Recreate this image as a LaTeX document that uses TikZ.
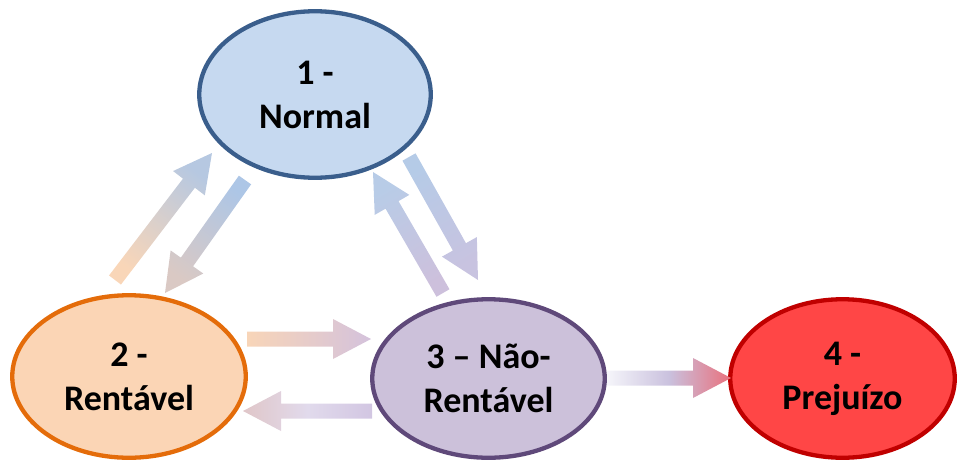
\documentclass[tikz,border=0pt]{standalone}
\usepackage{fontspec}
\setmainfont{Carlito}
\usetikzlibrary{shapes.geometric,calc}
\definecolor{nfill}{HTML}{C6D9F0}
\definecolor{ndraw}{HTML}{3A5E8C}
\definecolor{rfill}{HTML}{FBD5B5}
\definecolor{rdraw}{HTML}{E46C0A}
\definecolor{nrfill}{HTML}{CCC1DA}
\definecolor{nrdraw}{HTML}{5F497A}
\definecolor{pfill}{HTML}{FF4646}
\definecolor{pdraw}{HTML}{C00000}
\newcommand{\blockarr}[4]{%
  \coordinate (H) at ($(#2)!38pt!(#1)$);
  \shade[#4, shading angle=#3]
    ($(#1)!7.5pt!90:(#2)$) -- ($(H)!7.5pt!90:(#2)$) -- ($(H)!20pt!90:(#2)$) --
    (#2) -- ($(H)!20pt!-90:(#2)$) -- ($(H)!7.5pt!-90:(#2)$) --
    ($(#1)!7.5pt!-90:(#2)$) -- cycle;
}
\begin{document}
\begin{tikzpicture}[x=1pt,y=-1pt,
  state/.style={ellipse, line width=4.3pt, inner sep=0pt, align=center,
    font=\bfseries\fontsize{36}{44}\selectfont}]
\useasboundingbox (0,0) rectangle (960,463);
\node[state, draw=ndraw, fill=nfill, minimum width=231.5pt, minimum height=166.5pt] (normal) at (315,94.5) {1 -\\Normal};
\node[state, draw=rdraw, fill=rfill, minimum width=233.5pt, minimum height=162.5pt] (rent) at (129,376.5) {2 -\\Rentável};
\node[state, draw=nrdraw, fill=nrfill, minimum width=232.5pt, minimum height=158.5pt] (nrent) at (488.5,378.5) {3 – Não-\\Rentável};
\node[state, draw=pdraw, fill=pfill, minimum width=224.5pt, minimum height=158.5pt] (prej) at (842.5,378.5) {4 -\\Prejuízo};
% arrow end points
\coordinate (a1t) at (115,280); \coordinate (a1h) at (212,153);
\coordinate (a2t) at (245,180); \coordinate (a2h) at (165,293);
\coordinate (a3t) at (443,293); \coordinate (a3h) at (373,172);
\coordinate (a4t) at (409,157); \coordinate (a4h) at (478,280);
\coordinate (a5t) at (247,339); \coordinate (a5h) at (371,339);
\coordinate (a6t) at (372,411); \coordinate (a6h) at (243,411);
\coordinate (a7t) at (607,378); \coordinate (a7h) at (731,378);
\blockarr{a1t}{a1h}{-37.4}{top color={rgb,255:red,182;green,200;blue,225}, bottom color={rgb,255:red,249;green,214;blue,184}}
\blockarr{a2t}{a2h}{144.7}{top color={rgb,255:red,218;green,201;blue,196}, bottom color={rgb,255:red,173;green,198;blue,230}}
\blockarr{a3t}{a3h}{30.05}{top color={rgb,255:red,184;green,204;blue,231}, bottom color={rgb,255:red,205;green,192;blue,220}}
\blockarr{a4t}{a4h}{-150.7}{top color={rgb,255:red,200;green,195;blue,224}, bottom color={rgb,255:red,181;green,203;blue,231}}
\blockarr{a5t}{a5h}{-90}{top color={rgb,255:red,212;green,194;blue,220}, bottom color={rgb,255:red,248;green,213;blue,184}}
\blockarr{a6t}{a6h}{90}{top color={rgb,255:red,224;green,198;blue,200}, bottom color={rgb,255:red,210;green,198;blue,226}, middle color={rgb,255:red,225;green,218;blue,236}}
\blockarr{a7t}{a7h}{-90}{top color={rgb,255:red,233;green,112;blue,124}, bottom color={rgb,255:red,245;green,245;blue,250}, middle color={rgb,255:red,202;green,193;blue,222}}
\end{tikzpicture}
\end{document}
